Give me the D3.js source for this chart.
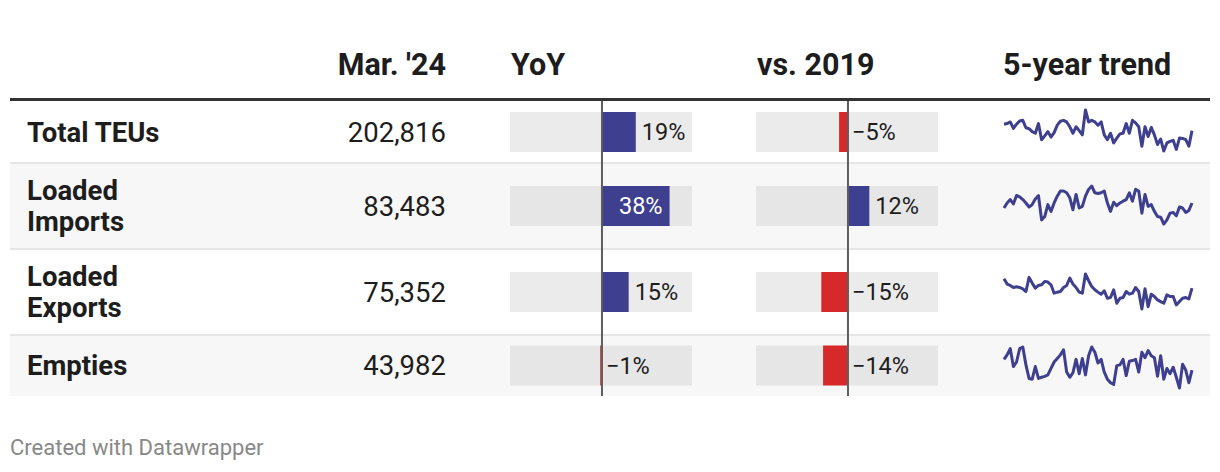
<!DOCTYPE html>
<html><head><meta charset="utf-8">
<script src="https://cdn.jsdelivr.net/npm/d3@7"></script>
<style>
html,body{margin:0;padding:0;background:#fff;}
svg{display:block;font-family:Roboto,"Noto Sans",sans-serif;}
</style></head>
<body>
<svg id="chart" width="1220" height="472"></svg>
<script>
// ---- data ----
const headers = ["Mar. '24", "YoY", "vs. 2019", "5-year trend"];
const categories = [["Total TEUs"], ["Loaded", "Imports"], ["Loaded", "Exports"], ["Empties"]];
const march24 = [202816, 83483, 75352, 43982];
const yoy = [19, 38, 15, -1];
const vs2019 = [-5, 12, -15, -14];
// 5-year monthly trend (thousand TEUs), read from sparklines
const trendTotal = [214.8,216.0,219.0,207.0,214.8,220.8,222.0,208.2,206.4,201.0,198.0,216.0,186.0,193.2,201.0,190.8,199.2,213.0,220.2,222.0,219.0,210.0,198.0,210.0,202.8,195.0,241.2,219.0,222.0,219.0,213.0,219.0,195.0,186.0,198.0,180.0,189.0,196.8,198.0,216.0,198.0,222.0,217.2,210.0,174.0,210.0,192.0,208.8,195.0,177.0,187.2,165.0,180.0,183.0,184.8,168.0,189.0,188.4,186.0,174.0,202.8];
const trendImports = [79.8,83.5,86.0,82.8,89.0,88.0,86.0,83.5,80.5,82.3,86.5,89.0,71.0,73.5,82.3,77.3,83.5,88.5,92.3,92.3,91.0,87.3,78.5,89.8,79.8,81.0,88.5,93.5,96.0,91.0,90.5,91.0,92.3,83.5,77.3,84.0,81.5,83.5,84.8,86.0,91.0,84.8,93.5,92.3,76.0,89.8,81.0,82.3,77.3,73.5,73.0,68.0,71.0,76.0,76.5,74.0,80.5,79.8,76.5,78.0,83.5];
const trendExports = [81.0,77.8,77.0,75.8,76.2,75.8,75.0,73.4,81.8,78.4,75.4,77.0,77.4,79.4,79.0,77.4,72.4,73.0,73.4,75.8,77.0,81.4,77.8,75.8,73.0,72.4,83.8,79.8,76.4,74.4,73.0,71.8,73.8,69.4,69.8,74.4,66.4,69.4,69.8,73.4,71.8,72.4,75.8,73.4,63.0,75.0,64.4,71.8,70.4,68.4,67.4,66.4,71.4,70.4,70.4,65.4,67.4,69.4,69.8,69.0,75.4];
const trendEmpties = [48.5,50.4,53.0,45.5,47.4,53.0,53.7,46.2,40.5,40.2,45.5,40.5,41.0,41.4,42.0,44.7,47.4,48.9,50.4,52.5,43.2,41.0,42.9,48.5,42.5,48.9,42.0,50.0,53.7,51.5,47.0,48.5,43.2,40.2,38.7,38.0,45.9,46.2,48.5,41.7,47.7,48.0,48.5,43.2,51.5,49.2,52.2,50.0,49.2,41.4,50.0,40.2,44.7,42.5,45.2,41.0,36.5,46.5,44.0,38.7,44.0];
const trends = [trendTotal, trendImports, trendExports, trendEmpties];
const footer = "Created with Datawrapper";

// ---- layout ----
const rowTops = [101, 163, 249, 335];
const rowHeights = [62, 86, 86, 61];
const sparkPad = [[9, 12], [23, 25], [25, 26], [12, 8]];
const COL_BLUE = "#3e3f8f", COL_RED = "#d62a2a";

const svg = d3.select("#chart");
const fmt = d3.format(",");
const pctFmt = v => (v < 0 ? "\u2212" : "") + Math.abs(v) + "%";

// row backgrounds
rowTops.forEach((t, i) => {
  svg.append("rect").attr("x", 10).attr("y", t).attr("width", 1200).attr("height", rowHeights[i])
    .attr("fill", i % 2 ? "#f7f7f7" : "#ffffff");
  if (i > 0) svg.append("rect").attr("x", 10).attr("y", t - 1).attr("width", 1200).attr("height", 2).attr("fill", "#e6e6e6");
});

// headers
const headerX = [446, 511, 757, 1003];
const headerAnchor = ["end", "start", "start", "start"];
headers.forEach((h, i) => {
  svg.append("text").attr("x", headerX[i]).attr("y", 75).attr("text-anchor", headerAnchor[i])
    .attr("font-size", 30.5).attr("font-weight", 700).attr("fill", "#1d1d1d").text(h);
});
svg.append("rect").attr("x", 10).attr("y", 98).attr("width", 1200).attr("height", 3).attr("fill", "#333");

// labels & numbers
categories.forEach((lines, i) => {
  const cy = rowTops[i] + rowHeights[i] / 2;
  const lh = 31;
  const t = svg.append("text").attr("font-size", 27.5).attr("font-weight", 700).attr("fill", "#1d1d1d");
  lines.forEach((l, j) => {
    t.append("tspan").attr("x", 27).attr("y", cy + 9.5 + (j - (lines.length - 1) / 2) * lh).text(l);
  });
  svg.append("text").attr("x", 446).attr("y", cy + 9.5).attr("text-anchor", "end")
    .attr("font-size", 27.5).attr("fill", "#1d1d1d").text(fmt(march24[i]));
});

// bar columns
function barColumn(values, x0, x1) {
  const x = d3.scaleLinear().domain([-51.7, 50.6]).range([x0, x1]);
  values.forEach((v, i) => {
    const cy = rowTops[i] + rowHeights[i] / 2;
    svg.append("rect").attr("x", x0).attr("y", cy - 20).attr("width", x1 - x0).attr("height", 40)
      .attr("fill", i % 2 ? "#e6e6e6" : "#ebebeb");
    const a = x(Math.min(0, v)), b = x(Math.max(0, v));
    svg.append("rect").attr("x", a).attr("y", cy - 20).attr("width", b - a).attr("height", 40)
      .attr("fill", v >= 0 ? COL_BLUE : COL_RED);
    const lbl = svg.append("text").attr("y", cy + 8).attr("font-size", 23.5).text(pctFmt(v));
    const w = lbl.node().getComputedTextLength();
    if (v >= 0 && (b - a) > w + 14) {
      lbl.attr("x", b - 7).attr("text-anchor", "end").attr("fill", "#fff");
    } else if (v >= 0) {
      lbl.attr("x", b + 6).attr("fill", "#1d1d1d");
    } else {
      lbl.attr("x", x(0) + 4).attr("fill", "#1d1d1d");
    }
  });
  svg.append("line").attr("x1", x(0)).attr("x2", x(0)).attr("y1", 101).attr("y2", 396)
    .attr("stroke", "#5e5e5e").attr("stroke-width", 2);
}
barColumn(yoy, 510, 692);
barColumn(vs2019, 756, 938);

// sparklines
trends.forEach((data, i) => {
  const top = rowTops[i] + sparkPad[i][0], bot = rowTops[i] + rowHeights[i] - sparkPad[i][1];
  const sx = d3.scaleLinear().domain([0, data.length - 1]).range([1004, 1192]);
  const sy = d3.scaleLinear().domain(d3.extent(data)).range([bot, top]);
  svg.append("path").datum(data)
    .attr("d", d3.line().x((d, k) => sx(k)).y(d => sy(d)))
    .attr("fill", "none").attr("stroke", COL_BLUE).attr("stroke-width", 3).attr("stroke-linejoin", "round");
});

// footer
svg.append("text").attr("x", 10).attr("y", 455).attr("font-size", 22).attr("fill", "#888").text(footer);
</script>
</body></html>
